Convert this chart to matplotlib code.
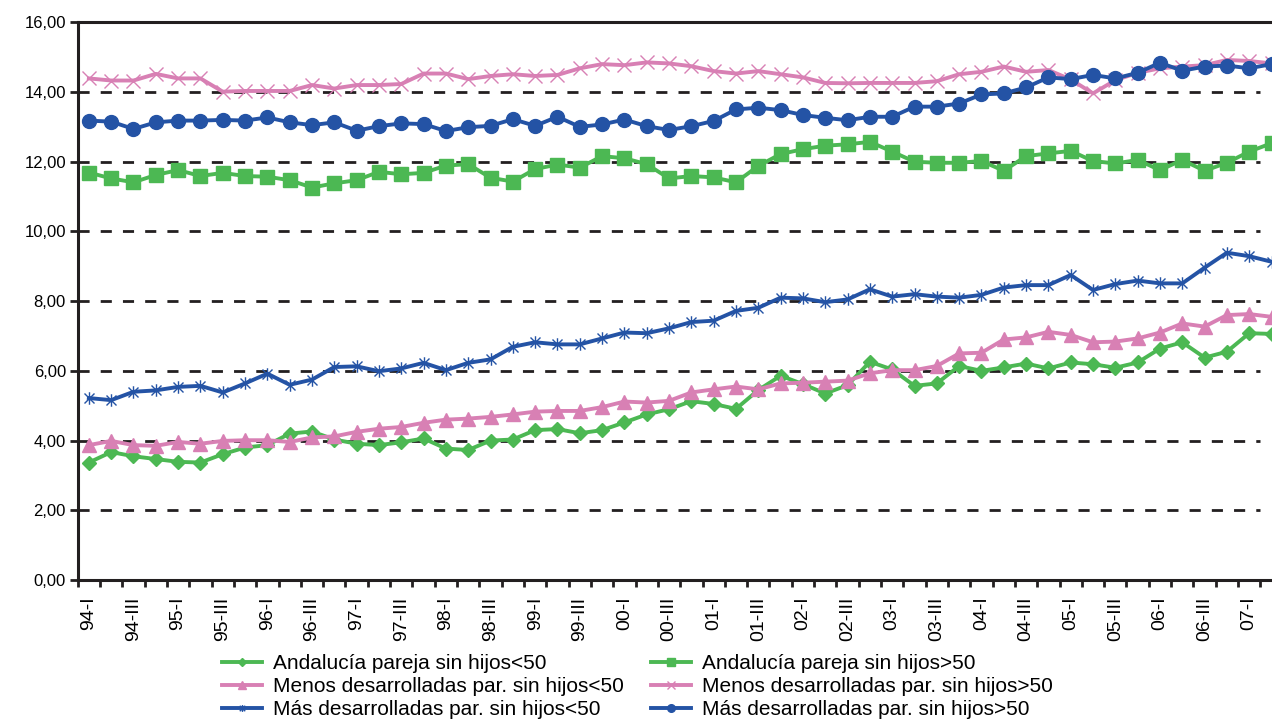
import matplotlib.pyplot as plt
from matplotlib.path import Path
from matplotlib.ticker import FixedLocator, FuncFormatter

# quarters 94-I ... 07-II (the last one is cut by the right edge)
years = ["94", "95", "96", "97", "98", "99", "00", "01", "02", "03", "04", "05", "06", "07"]
quarter_names = ["I", "II", "III", "IV"]
quarters = [f"{y}-{q}" for y in years for q in quarter_names][:54]

and_lt50 = [3.37, 3.67, 3.55, 3.47, 3.39, 3.37, 3.61, 3.80, 3.87, 4.20, 4.26, 4.03, 3.91, 3.87, 3.95, 4.06, 3.77, 3.73,
            4.00, 4.03, 4.30, 4.33, 4.21, 4.30, 4.52, 4.75, 4.90, 5.13, 5.05, 4.91, 5.45, 5.86, 5.62, 5.35, 5.59, 6.26,
            6.04, 5.57, 5.64, 6.14, 6.00, 6.10, 6.21, 6.07, 6.24, 6.19, 6.09, 6.24, 6.64, 6.82, 6.38, 6.55, 7.08, 7.06]
men_lt50 = [3.87, 3.99, 3.87, 3.85, 3.96, 3.91, 3.99, 4.01, 4.01, 3.96, 4.09, 4.12, 4.25, 4.34, 4.39, 4.51, 4.60, 4.63,
            4.68, 4.75, 4.83, 4.85, 4.85, 4.96, 5.12, 5.09, 5.14, 5.38, 5.47, 5.55, 5.47, 5.64, 5.66, 5.69, 5.72, 5.93,
            6.02, 6.02, 6.14, 6.50, 6.52, 6.90, 6.96, 7.12, 7.03, 6.82, 6.84, 6.93, 7.10, 7.36, 7.27, 7.60, 7.63, 7.55]
mas_lt50 = [5.22, 5.16, 5.40, 5.44, 5.54, 5.57, 5.38, 5.64, 5.92, 5.60, 5.75, 6.11, 6.13, 5.99, 6.07, 6.23, 6.02, 6.23,
            6.33, 6.69, 6.82, 6.76, 6.76, 6.93, 7.10, 7.08, 7.22, 7.40, 7.44, 7.72, 7.81, 8.10, 8.08, 7.97, 8.05, 8.34,
            8.13, 8.20, 8.13, 8.10, 8.18, 8.39, 8.46, 8.46, 8.75, 8.32, 8.49, 8.59, 8.51, 8.51, 8.96, 9.39, 9.29, 9.13]
and_gt50 = [11.69, 11.52, 11.41, 11.62, 11.76, 11.59, 11.68, 11.59, 11.57, 11.47, 11.26, 11.38, 11.47, 11.71, 11.64, 11.68, 11.89, 11.93,
            11.54, 11.43, 11.79, 11.92, 11.83, 12.16, 12.10, 11.93, 11.52, 11.59, 11.55, 11.41, 11.88, 12.22, 12.36, 12.46, 12.50, 12.57,
            12.29, 12.00, 11.97, 11.97, 12.02, 11.74, 12.16, 12.24, 12.31, 12.02, 11.95, 12.05, 11.76, 12.05, 11.74, 11.97, 12.29, 12.53]
men_gt50 = [14.39, 14.33, 14.33, 14.52, 14.39, 14.39, 14.01, 14.03, 14.03, 14.03, 14.20, 14.10, 14.20, 14.20, 14.23, 14.53, 14.53, 14.37,
            14.46, 14.51, 14.46, 14.49, 14.68, 14.80, 14.77, 14.85, 14.82, 14.74, 14.60, 14.53, 14.60, 14.51, 14.42, 14.26, 14.25, 14.26,
            14.26, 14.26, 14.31, 14.51, 14.58, 14.73, 14.58, 14.63, 14.36, 13.96, 14.34, 14.55, 14.68, 14.73, 14.77, 14.92, 14.89, 14.82]
mas_gt50 = [13.18, 13.15, 12.94, 13.13, 13.18, 13.18, 13.20, 13.18, 13.27, 13.13, 13.05, 13.13, 12.89, 13.02, 13.10, 13.08, 12.88, 12.99,
            13.03, 13.22, 13.03, 13.29, 13.00, 13.07, 13.21, 13.02, 12.91, 13.02, 13.17, 13.50, 13.55, 13.48, 13.34, 13.26, 13.19, 13.29,
            13.29, 13.58, 13.58, 13.67, 13.93, 13.96, 14.13, 14.42, 14.37, 14.49, 14.39, 14.55, 14.84, 14.61, 14.73, 14.76, 14.68, 14.80]

GREEN = "#4cb853"
PINK = "#d880b4"
BLUE = "#2453a5"
INK = "#231f20"

plt.rcParams["font.family"] = ["Liberation Sans", "DejaVu Sans"]

# excel-like "star" marker: an X with a vertical bar
star = Path([(-1, -1), (1, 1), (-1, 1), (1, -1), (0, -1.25), (0, 1.25)],
            [Path.MOVETO, Path.LINETO] * 3)

fig = plt.figure(figsize=(12.72, 7.22), dpi=100)
ax = fig.add_axes([77.7 / 1272, 142 / 722, 1205 / 1272, 557.7 / 722])

x = list(range(len(quarters)))
lw = 2.8
# drawing order as in the original workbook
l1, = ax.plot(x, and_lt50, color=GREEN, lw=lw, marker="D", ms=7.5, mec=GREEN, zorder=3,
              label="Andalucía pareja sin hijos<50")
l4, = ax.plot(x, and_gt50, color=GREEN, lw=lw, marker="s", ms=9.5, mec=GREEN, zorder=3,
              label="Andalucía pareja sin hijos>50")
l2, = ax.plot(x, men_lt50, color=PINK, lw=lw, marker="^", ms=10.5, mec=PINK, zorder=4,
              label="Menos desarrolladas par. sin hijos<50")
l5, = ax.plot(x, men_gt50, color=PINK, lw=lw, marker="x", ms=10, mew=1.0, zorder=4,
              label="Menos desarrolladas par. sin hijos>50")
l3, = ax.plot(x, mas_lt50, color=BLUE, lw=lw, marker=star, ms=9, mew=1.0, zorder=5,
              label="Más desarrolladas par. sin hijos<50")
l6, = ax.plot(x, mas_gt50, color=BLUE, lw=lw, marker="o", ms=10, mec=BLUE, zorder=5,
              label="Más desarrolladas par. sin hijos>50")

ax.set_xlim(-0.5, len(quarters) - 0.5)
ax.set_ylim(0, 16)

# dashed gridlines stop at the last category boundary
for yv in range(2, 16, 2):
    ax.hlines(yv, -0.5, 52.5, color=INK, lw=2, ls=(0, (4, 4)), zorder=1)

for side in ["left", "bottom", "top"]:
    ax.spines[side].set_linewidth(2.2)
    ax.spines[side].set_color(INK)
ax.spines["right"].set_visible(False)

ax.set_yticks(range(0, 17, 2))
ax.yaxis.set_major_formatter(FuncFormatter(lambda v, p: f"{v:.2f}".replace(".", ",")))
ax.tick_params(axis="y", length=6, width=2, color=INK, labelsize=12, pad=2.5)

shown = [i for i in x if i % 2 == 0 and i <= 52]
ax.xaxis.set_major_locator(FixedLocator(shown))
ax.set_xticklabels([quarters[i] for i in shown], rotation=90, fontsize=14)
ax.xaxis.set_minor_locator(FixedLocator([i - 0.5 for i in range(len(quarters) + 1)]))
ax.tick_params(axis="x", which="major", length=0, pad=12)
ax.tick_params(axis="x", which="minor", length=5, width=2, color=INK)

handles = [l1, l2, l3, l4, l5, l6]
fig.legend(handles, [h.get_label() for h in handles], ncol=2, loc="upper left",
           bbox_to_anchor=(222 / 1272, 1 - 654 / 722), frameon=False, fontsize=15,
           markerscale=0.55, handlelength=1.9, handletextpad=0.55, columnspacing=1.3,
           labelspacing=0.2, borderpad=0, borderaxespad=0)

fig.savefig("out.png", dpi=100)
